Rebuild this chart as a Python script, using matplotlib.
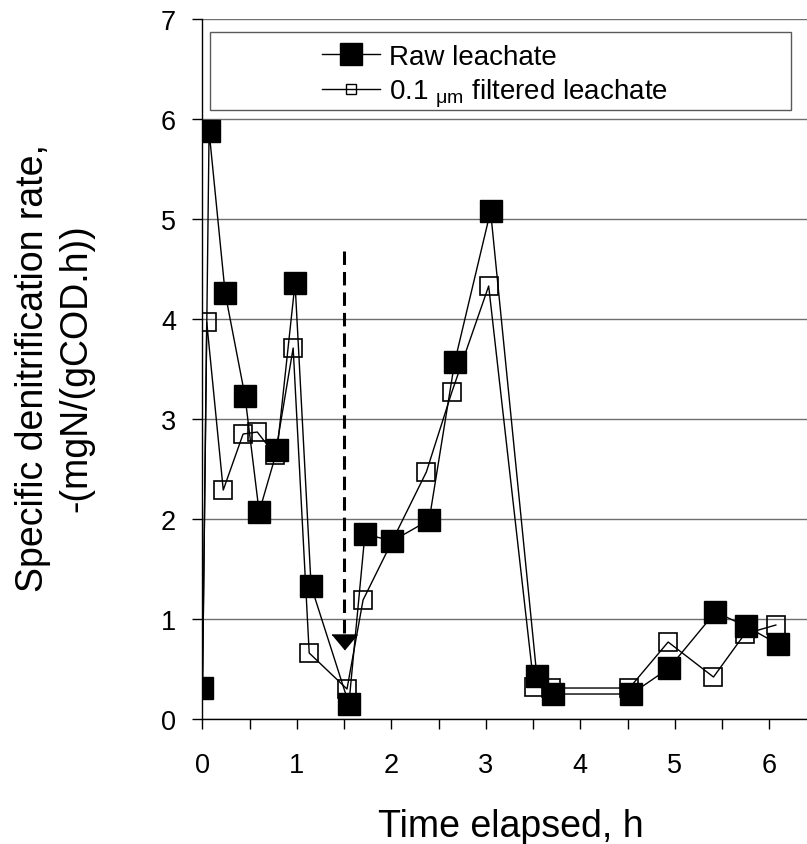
import matplotlib.pyplot as plt
from matplotlib.lines import Line2D
from matplotlib.patches import Rectangle
from matplotlib.ticker import MultipleLocator

plt.rcParams['font.family'] = ['Liberation Sans', 'DejaVu Sans']
plt.rcParams['mathtext.fontset'] = 'custom'
plt.rcParams['mathtext.rm'] = 'Liberation Sans'
plt.rcParams['mathtext.it'] = 'Liberation Sans:italic'

# raw leachate
raw_t = [0.00, 0.07, 0.24, 0.45, 0.60, 0.79, 0.98, 1.15, 1.55, 1.72, 2.01,
         2.40, 2.67, 3.05, 3.54, 3.71, 4.54, 4.94, 5.43, 5.75, 6.09]
raw_rate = [0.31, 5.88, 4.26, 3.23, 2.07, 2.69, 4.36, 1.33, 0.15, 1.85, 1.78,
            1.99, 3.57, 5.08, 0.43, 0.25, 0.25, 0.51, 1.07, 0.93, 0.75]

# 0.1 um filtered leachate
filt_t = [0.00, 0.045, 0.22, 0.43, 0.58, 0.77, 0.96, 1.13, 1.53, 1.70, 2.37,
          2.64, 3.03, 3.51, 3.69, 4.52, 4.93, 5.41, 5.74, 6.07]
filt_rate = [0.31, 3.97, 2.29, 2.85, 2.87, 2.64, 3.71, 0.66, 0.30, 1.19, 2.47,
             3.27, 4.33, 0.32, 0.31, 0.31, 0.77, 0.42, 0.85, 0.94]

labels = ['Raw leachate', r'0.1 $_{\mathrm{\mu m}}$ filtered leachate']

# dosing marker (dashed arrow)
arrow_t = 1.5
arrow_top = 4.68
arrow_tip = 0.70

fig = plt.figure(figsize=(8.07, 8.45), dpi=100)
ax = fig.add_axes([0.2509, 0.1479, 0.7491, 0.8284])

ax.plot(filt_t, filt_rate, color='black', lw=1.0, marker='s', ms=13,
        mfc='none', mec='black', mew=1.2, zorder=3)
ax.plot(raw_t, raw_rate, color='black', lw=1.0, marker='s', ms=15.8,
        mfc='black', mec='black', zorder=4)

ax.plot([arrow_t, arrow_t], [arrow_top, arrow_tip + 0.15], color='black',
        lw=2.2, ls=(0, (4.4, 2.3)), zorder=2)
ax.plot(arrow_t, arrow_tip + 0.075, marker=[(-1, 0.6), (1, 0.6), (0, -0.6)],
        ms=18, color='black', zorder=2)

ax.set_xlim(0, 6.4)
ax.set_ylim(0, 7)
ax.set_yticks(range(8))
ax.set_xticks(range(7))
ax.xaxis.set_minor_locator(MultipleLocator(0.5))
ax.tick_params(axis='both', which='both', direction='out', length=7,
               width=1, color='black', labelsize=19.5)
ax.tick_params(axis='x', pad=17)
ax.tick_params(axis='y', pad=12)

ax.yaxis.grid(True, color='#6e6e6e', lw=1)
ax.set_axisbelow(True)
for s in ['top', 'right']:
    ax.spines[s].set_visible(False)
for s in ['left', 'bottom']:
    ax.spines[s].set_color('black')
    ax.spines[s].set_linewidth(1)

# legend box
ax.add_patch(Rectangle((0.0124, 0.87), 0.961, 0.1114, transform=ax.transAxes,
                       facecolor='white', edgecolor='#5a5a5a', lw=1,
                       zorder=5, clip_on=False))
handles = [
    Line2D([], [], color='black', lw=1, marker='s', ms=15.8, mfc='black'),
    Line2D([], [], color='black', lw=1, marker='s', ms=6.5, mfc='none', mew=1),
]
leg = ax.legend(handles, labels, loc='center left',
                bbox_to_anchor=(0.1977, 0.918), frameon=False, fontsize=20,
                handlelength=2.1, handletextpad=0.3, labelspacing=0.25,
                borderpad=0, borderaxespad=0)
leg.set_zorder(6)

fig.text(511 / 807, 8 / 845, 'Time elapsed, h', fontsize=27,
         ha='center', va='baseline')
fig.text(55 / 807, 1 - 368 / 845,
         'Specific denitrification rate,\n-(mgN/(gCOD.h))', fontsize=27,
         rotation=90, ha='center', va='center', multialignment='center',
         linespacing=1.25)

fig.savefig('out.png', dpi=100)
